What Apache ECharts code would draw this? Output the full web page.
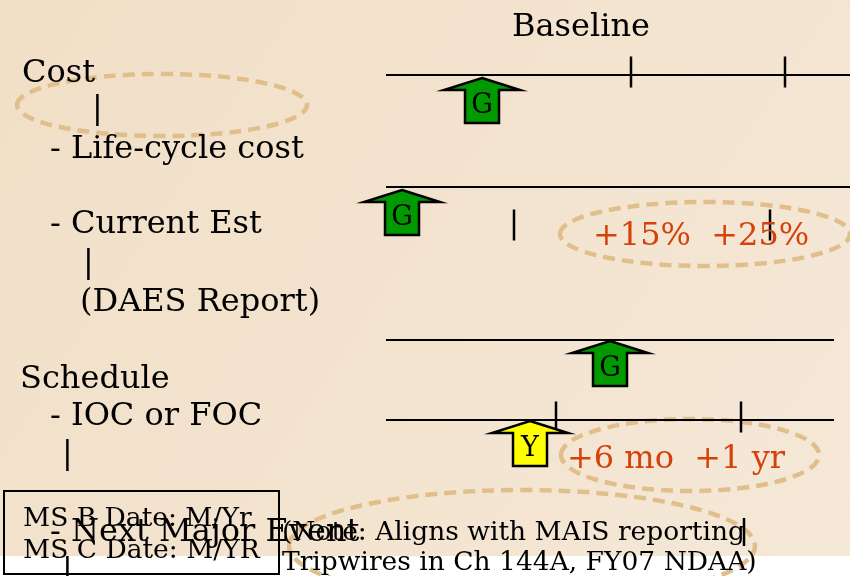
<!DOCTYPE html>
<html lang="en" style="height: 100%">
<head>
  <meta charset="utf-8">
</head>
<body style="height: 100%; margin: 0">
  <div id="container" style="width: 850px; height: 576px"></div>
  <script src="https://cdn.jsdelivr.net/npm/echarts@6/dist/echarts.min.js"></script>
  <script>
    // timelines: [xStart, xEnd, y]
    var timelines = [[386, 850, 75], [386, 850, 187], [386, 834, 340], [386, 834, 420]];
    // tick marks: [x, yCenter, length]
    var ticks = [[631, 72, 31], [785, 72, 31], [514, 225, 31], [770, 225, 31], [556, 417, 31], [741, 417, 31], [744, 532, 28]];
    // status arrows: [x, tipY, status]
    var arrows = [[482, 78, 'G'], [402, 190, 'G'], [610, 341, 'G'], [530, 421, 'Y']];
    // dashed ellipses: [cx, cy, rx, ry]
    var ellipses = [[162, 105, 145, 31], [705, 234, 145, 32], [690, 455, 129, 36], [522, 546, 233, 56]];
    // outline text: [x, y, text]
    var outline = [
      [22, 74, 'Cost'],
      [92, 110, '|'],
      [50, 150, '- Life-cycle cost'],
      [50, 225, '- Current Est'],
      [83, 264, '|'],
      [80, 303, '(DAES Report)'],
      [20, 380, 'Schedule'],
      [50, 417, '- IOC or FOC'],
      [62, 455, '|'],
      [50, 533, '- Next Major Event'],
      [62, 572, '|']
    ];
    var titles = [[581, 28, 'Baseline']];
    var thresholds = [[593, 237, '+15%  +25%'], [567, 460, '+6 mo  +1 yr']];
    var notes = [
      [23, 519, 'MS B Date: M/Yr'],
      [23, 551, 'MS C Date: M/YR'],
      [282, 533, '(Note: Aligns with MAIS reporting'],
      [282, 563, 'Tripwires in Ch 144A, FY07 NDAA)']
    ];
    var noteBox = [[4, 491, 279, 574]];

    var statusColor = { G: '#009900', Y: '#ffff00' };
    var serif = '"DejaVu Serif", serif';

    var dom = document.getElementById('container');
    var myChart = echarts.init(dom, null, { renderer: 'canvas' });

    function textSeries(list, size, color, align) {
      return {
        type: 'custom',
        data: list.map(function (d) { return [d[0], d[1]]; }),
        z: 10,
        renderItem: function (params, api) {
          var p = api.coord([api.value(0), api.value(1)]);
          return {
            type: 'text',
            x: p[0], y: p[1],
            style: {
              text: list[params.dataIndex][2],
              fontSize: size,
              fontFamily: serif,
              fill: color,
              align: align || 'left',
              verticalAlign: 'middle'
            }
          };
        }
      };
    }

    var option = {
      animation: false,
      backgroundColor: '#ffffff',
      graphic: [{
        type: 'rect', z: -10, silent: true,
        shape: { x: 0, y: 0, width: 850, height: 556 },
        style: {
          fill: new echarts.graphic.LinearGradient(0, 0, 1, 1, [
            { offset: 0, color: '#f1dfc7' },
            { offset: 1, color: '#f5e8d7' }
          ])
        }
      }],
      grid: { left: 0, right: 0, top: 0, bottom: 0 },
      xAxis: { type: 'value', min: 0, max: 850, show: false },
      yAxis: { type: 'value', min: 0, max: 576, inverse: true, show: false },
      series: [
        {
          type: 'custom',
          data: ellipses,
          z: 2,
          renderItem: function (params, api) {
            var c = api.coord([api.value(0), api.value(1)]);
            var e = api.coord([api.value(0) + api.value(2), api.value(1) + api.value(3)]);
            return {
              type: 'ellipse',
              shape: { cx: c[0], cy: c[1], rx: e[0] - c[0], ry: e[1] - c[1] },
              style: { fill: 'none', stroke: '#e0bf8c', lineWidth: 4.5, lineDash: [12, 7] }
            };
          }
        },
        {
          type: 'custom',
          data: timelines,
          z: 3,
          renderItem: function (params, api) {
            var a = api.coord([api.value(0), api.value(2)]);
            var b = api.coord([api.value(1), api.value(2)]);
            return {
              type: 'line',
              shape: { x1: a[0], y1: a[1], x2: b[0], y2: b[1] },
              style: { stroke: '#000', lineWidth: 2 }
            };
          }
        },
        {
          type: 'custom',
          data: ticks,
          z: 3,
          renderItem: function (params, api) {
            var half = api.value(2) / 2;
            var a = api.coord([api.value(0), api.value(1) - half]);
            var b = api.coord([api.value(0), api.value(1) + half]);
            return {
              type: 'line',
              shape: { x1: a[0], y1: a[1], x2: b[0], y2: b[1] },
              style: { stroke: '#000', lineWidth: 2.5 }
            };
          }
        },
        {
          type: 'custom',
          data: noteBox,
          z: 3,
          renderItem: function (params, api) {
            var a = api.coord([api.value(0), api.value(1)]);
            var b = api.coord([api.value(2), api.value(3)]);
            return {
              type: 'rect',
              shape: { x: a[0], y: a[1], width: b[0] - a[0], height: b[1] - a[1] },
              style: { fill: 'none', stroke: '#000', lineWidth: 2 }
            };
          }
        },
        {
          type: 'custom',
          data: arrows.map(function (d) { return [d[0], d[1]]; }),
          z: 5,
          renderItem: function (params, api) {
            var p = api.coord([api.value(0), api.value(1)]);
            var s = arrows[params.dataIndex][2];
            var pts = [[0, 0], [38, 12], [17, 12], [17, 45], [-17, 45], [-17, 12], [-38, 12]];
            return {
              type: 'group',
              children: [{
                type: 'polygon',
                shape: { points: pts.map(function (q) { return [p[0] + q[0], p[1] + q[1]]; }) },
                style: { fill: statusColor[s], stroke: '#000', lineWidth: 2.5, lineJoin: 'miter' }
              }, {
                type: 'text',
                x: p[0], y: p[1] + 28,
                style: { text: s, fontSize: 27, fontFamily: serif, fill: '#000', align: 'center', verticalAlign: 'middle' }
              }]
            };
          }
        },
        textSeries(titles, 32, '#000', 'center'),
        textSeries(outline, 32, '#000'),
        textSeries(thresholds, 32, '#d4420c'),
        textSeries(notes, 26.5, '#000')
      ]
    };

    myChart.setOption(option);
    window.addEventListener('resize', myChart.resize);
  </script>
</body>
</html>
